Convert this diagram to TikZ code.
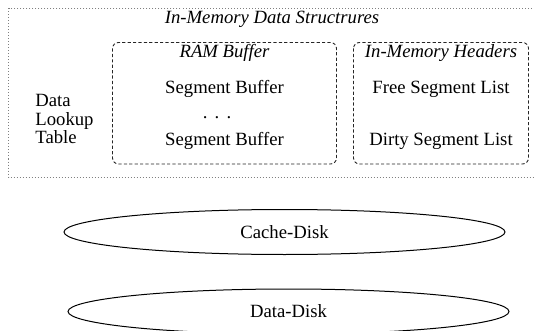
\documentclass[tikz,border=0pt]{standalone}
\usepackage{fontspec}
\setmainfont{Liberation Serif}
\usetikzlibrary{shapes.geometric}
\begin{document}
\begin{tikzpicture}[x=0.5pt,y=-0.5pt,
  txt/.style={font=\fontsize{9.35}{9.2}\selectfont, inner sep=0pt},
  ttl/.style={txt, font=\fontsize{9.35}{9.2}\selectfont\itshape},
  group/.style={draw=black!85, dash pattern=on 1.6pt off 1.1pt, rounded corners=3pt, line width=0.45pt},
  outerbox/.style={draw=black!50, dash pattern=on 0.5pt off 1pt, line width=0.5pt},
  disk/.style={draw, ellipse, line width=0.5pt, inner sep=0pt, minimum height=22.5pt,
    font=\fontsize{9.35}{9.2}\selectfont}]
  \useasboundingbox (0,0) rectangle (534,331);

  % outer region holding all in-memory structures
  \draw[outerbox] (8.5,8.5) rectangle (560,177.5);
  \node[ttl] (mem) at (272,19) {In-Memory Data Structrures};

  % lookup table label
  \node[txt, align=left, anchor=west] (lookup) at (35,119) {Data\\Lookup\\Table};

  % RAM buffer group
  \draw[group] (112.5,42.5) rectangle (336.5,164);
  \node[ttl] (ram) at (224.5,53) {RAM Buffer};
  \node[txt] (seg1) at (224.5,89) {Segment Buffer};
  \node[txt] (dots) at (217,118) {.\hspace{3.6pt}.\hspace{3.6pt}.};
  \node[txt] (seg2) at (224.5,141) {Segment Buffer};

  % header group
  \draw[group] (353.5,42.5) rectangle (528.5,164);
  \node[ttl] (hdr) at (441,53) {In-Memory Headers};
  \node[txt] (free) at (441,89) {Free Segment List};
  \node[txt] (dirty) at (441,141) {Dirty Segment List};

  % disks
  \node[disk, minimum width=220.5pt] (cache) at (284.5,232) {Cache-Disk};
  \node[disk, minimum width=220.5pt] (data) at (288.5,311.5) {Data-Disk};
\end{tikzpicture}
\end{document}
